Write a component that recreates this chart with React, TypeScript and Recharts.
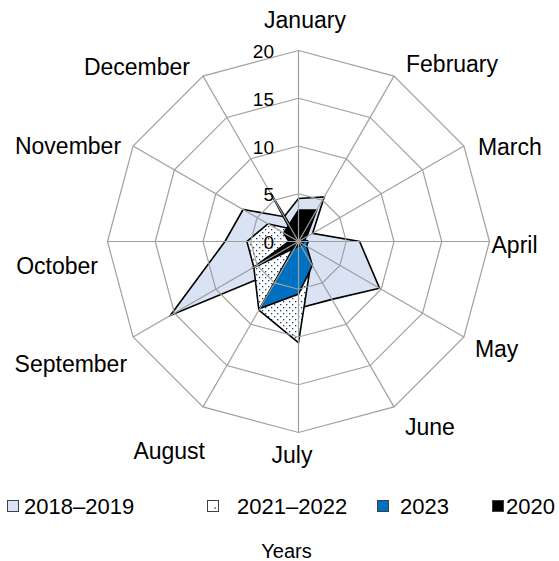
import { RadarChart, Radar, PolarGrid, PolarAngleAxis, PolarRadiusAxis } from "recharts";

const months = [
  "January", "February", "March", "April", "May", "June",
  "July", "August", "September", "October", "November", "December",
];
const years1819 = [4.5, 5.4, 1.7, 6.4, 9.8, 7.0, 7.0, 3.3, 15.5, 7.7, 6.7, 3.0];
const years2122 = [0.5, 1.0, 0.5, 1.0, 0.8, 2.6, 10.6, 8.3, 5.4, 5.4, 3.7, 1.5];
const years2023 = [0.3, 0.3, 0.5, 1.0, 1.0, 2.9, 5.5, 8.1, 0.3, 0.3, 0.3, 5.9];
const years2020 = [3.3, 3.8, 1.0, 0.5, 0.5, 0.5, 0.5, 0.8, 5.6, 1.0, 1.8, 2.0];
const radiusTicks = [0, 5, 10, 15, 20];

const data = months.map((month, i) => ({
  month,
  a: years1819[i],
  b: years2122[i],
  c: years2023[i],
  d: years2020[i],
}));

const W = 559;
const H = 561;
const CX = 298.5;
const CY = 241.5;
const R = 191;
const FONT = "'Liberation Sans', Arial, sans-serif";
const GRID = "#a0a0a0";

// Excel puts the month labels a bit irregularly, so nudge each one
const LABEL_NUDGE: Record<string, [string, number, number]> = {
  January: ["middle", 6.5, -31],
  February: ["start", 12, -12],
  March: ["start", 14, 1],
  April: ["start", 2, 3],
  May: ["start", 11, 12],
  June: ["start", 11, 20],
  July: ["middle", -6.5, 22.5],
  August: ["end", 2, 44],
  September: ["end", -6, 27],
  October: ["end", -9.5, 24.5],
  November: ["end", -12, 0],
  December: ["end", -13, -9],
};

const MonthTick = (props: any) => {
  const { payload, index } = props;
  const ang = (index * 30 * Math.PI) / 180;
  const vx = CX + R * Math.sin(ang);
  const vy = CY - R * Math.cos(ang);
  const [anchor, dx, dy] = LABEL_NUDGE[payload.value] || ["middle", 0, 0];
  return (
    <text
      x={vx + dx}
      y={vy + dy}
      dy="0.35em"
      textAnchor={anchor}
      fontSize={23}
      fontFamily={FONT}
      fill="#000"
    >
      {payload.value}
    </text>
  );
};

const RadiusTick = (props: any) => {
  const { x, y, payload } = props;
  return (
    <text x={x - 24.5} y={y + 1} dy="0.35em" textAnchor="end" fontSize={19} fontFamily={FONT} fill="#000">
      {payload.value}
    </text>
  );
};

const legendItems = [
  { label: "2018–2019", fill: "#dae3f3", x: 7, tx: 24 },
  { label: "2021–2022", fill: "url(#dots-legend)", x: 207, tx: 237 },
  { label: "2023", fill: "#0070c0", x: 377, tx: 400 },
  { label: "2020", fill: "#000000", x: 492, tx: 506 },
];

export default function App() {
  return (
    <div style={{ position: "absolute", left: 0, top: 0, width: W, height: H, background: "#fff" }}>
      <svg width={0} height={0} style={{ position: "absolute" }}>
        <defs>
          <pattern id="dots" width={6} height={6} patternUnits="userSpaceOnUse">
            <rect width={6} height={6} fill="#fff" />
            <rect x={1} y={1} width={1.3} height={1.3} fill="#1f3b73" />
            <rect x={4} y={4} width={1.3} height={1.3} fill="#1f3b73" />
          </pattern>
          <pattern id="dots-legend" width={11} height={11} patternUnits="userSpaceOnUse">
            <rect width={11} height={11} fill="#fff" />
            <rect x={5.4} y={5.4} width={1.4} height={1.4} fill="#1f3b73" />
          </pattern>
        </defs>
      </svg>

      <div style={{ position: "absolute", left: 0, top: 0 }}>
        <RadarChart width={W} height={H} data={data} cx={CX} cy={CY} outerRadius={R}
          margin={{ top: 0, right: 0, bottom: 0, left: 0 }}>
          <PolarAngleAxis dataKey="month" tick={false} axisLine={false} tickLine={false} />
          <PolarRadiusAxis domain={[0, 20]} ticks={radiusTicks} tick={false} axisLine={false} />
          <Radar dataKey="a" name="2018–2019" fill="#dae3f3" fillOpacity={1} stroke="#000" strokeWidth={1.6} isAnimationActive={false} />
          <Radar dataKey="b" name="2021–2022" fill="url(#dots)" fillOpacity={1} stroke="#000" strokeWidth={1.6} isAnimationActive={false} />
          <Radar dataKey="c" name="2023" fill="#0070c0" fillOpacity={1} stroke="#000" strokeWidth={1.6} isAnimationActive={false} />
          <Radar dataKey="d" name="2020" fill="#000" fillOpacity={1} stroke="#000" strokeWidth={1.6} isAnimationActive={false} />
        </RadarChart>
      </div>

      {/* grid and labels sit on top of the filled areas, as in the original */}
      <div style={{ position: "absolute", left: 0, top: 0 }}>
        <RadarChart width={W} height={H} data={data} cx={CX} cy={CY} outerRadius={R}
          margin={{ top: 0, right: 0, bottom: 0, left: 0 }}>
          <PolarGrid gridType="polygon" stroke={GRID} strokeWidth={1.2} />
          <PolarAngleAxis dataKey="month" tick={<MonthTick />} axisLine={false} tickLine={false} />
          <PolarRadiusAxis angle={90} domain={[0, 20]} ticks={radiusTicks} tick={<RadiusTick />}
            axisLine={false} tickLine={false} />
          <Radar dataKey="a" fill="none" stroke="none" isAnimationActive={false} />
        </RadarChart>
      </div>

      <svg width={W} height={70} style={{ position: "absolute", left: 0, top: 491 }}>
        {legendItems.map((it) => (
          <g key={it.label}>
            <rect x={it.x + 0.5} y={9.5} width={11} height={11} fill={it.fill} stroke="#404040" strokeWidth={1} />
            <text x={it.tx} y={15} dy="0.35em" fontSize={22} fontFamily={FONT} fill="#000">
              {it.label}
            </text>
          </g>
        ))}
        <text x={286.5} y={60} dy="0.35em" textAnchor="middle" fontSize={20} fontFamily={FONT} fill="#000">
          Years
        </text>
      </svg>
    </div>
  );
}
